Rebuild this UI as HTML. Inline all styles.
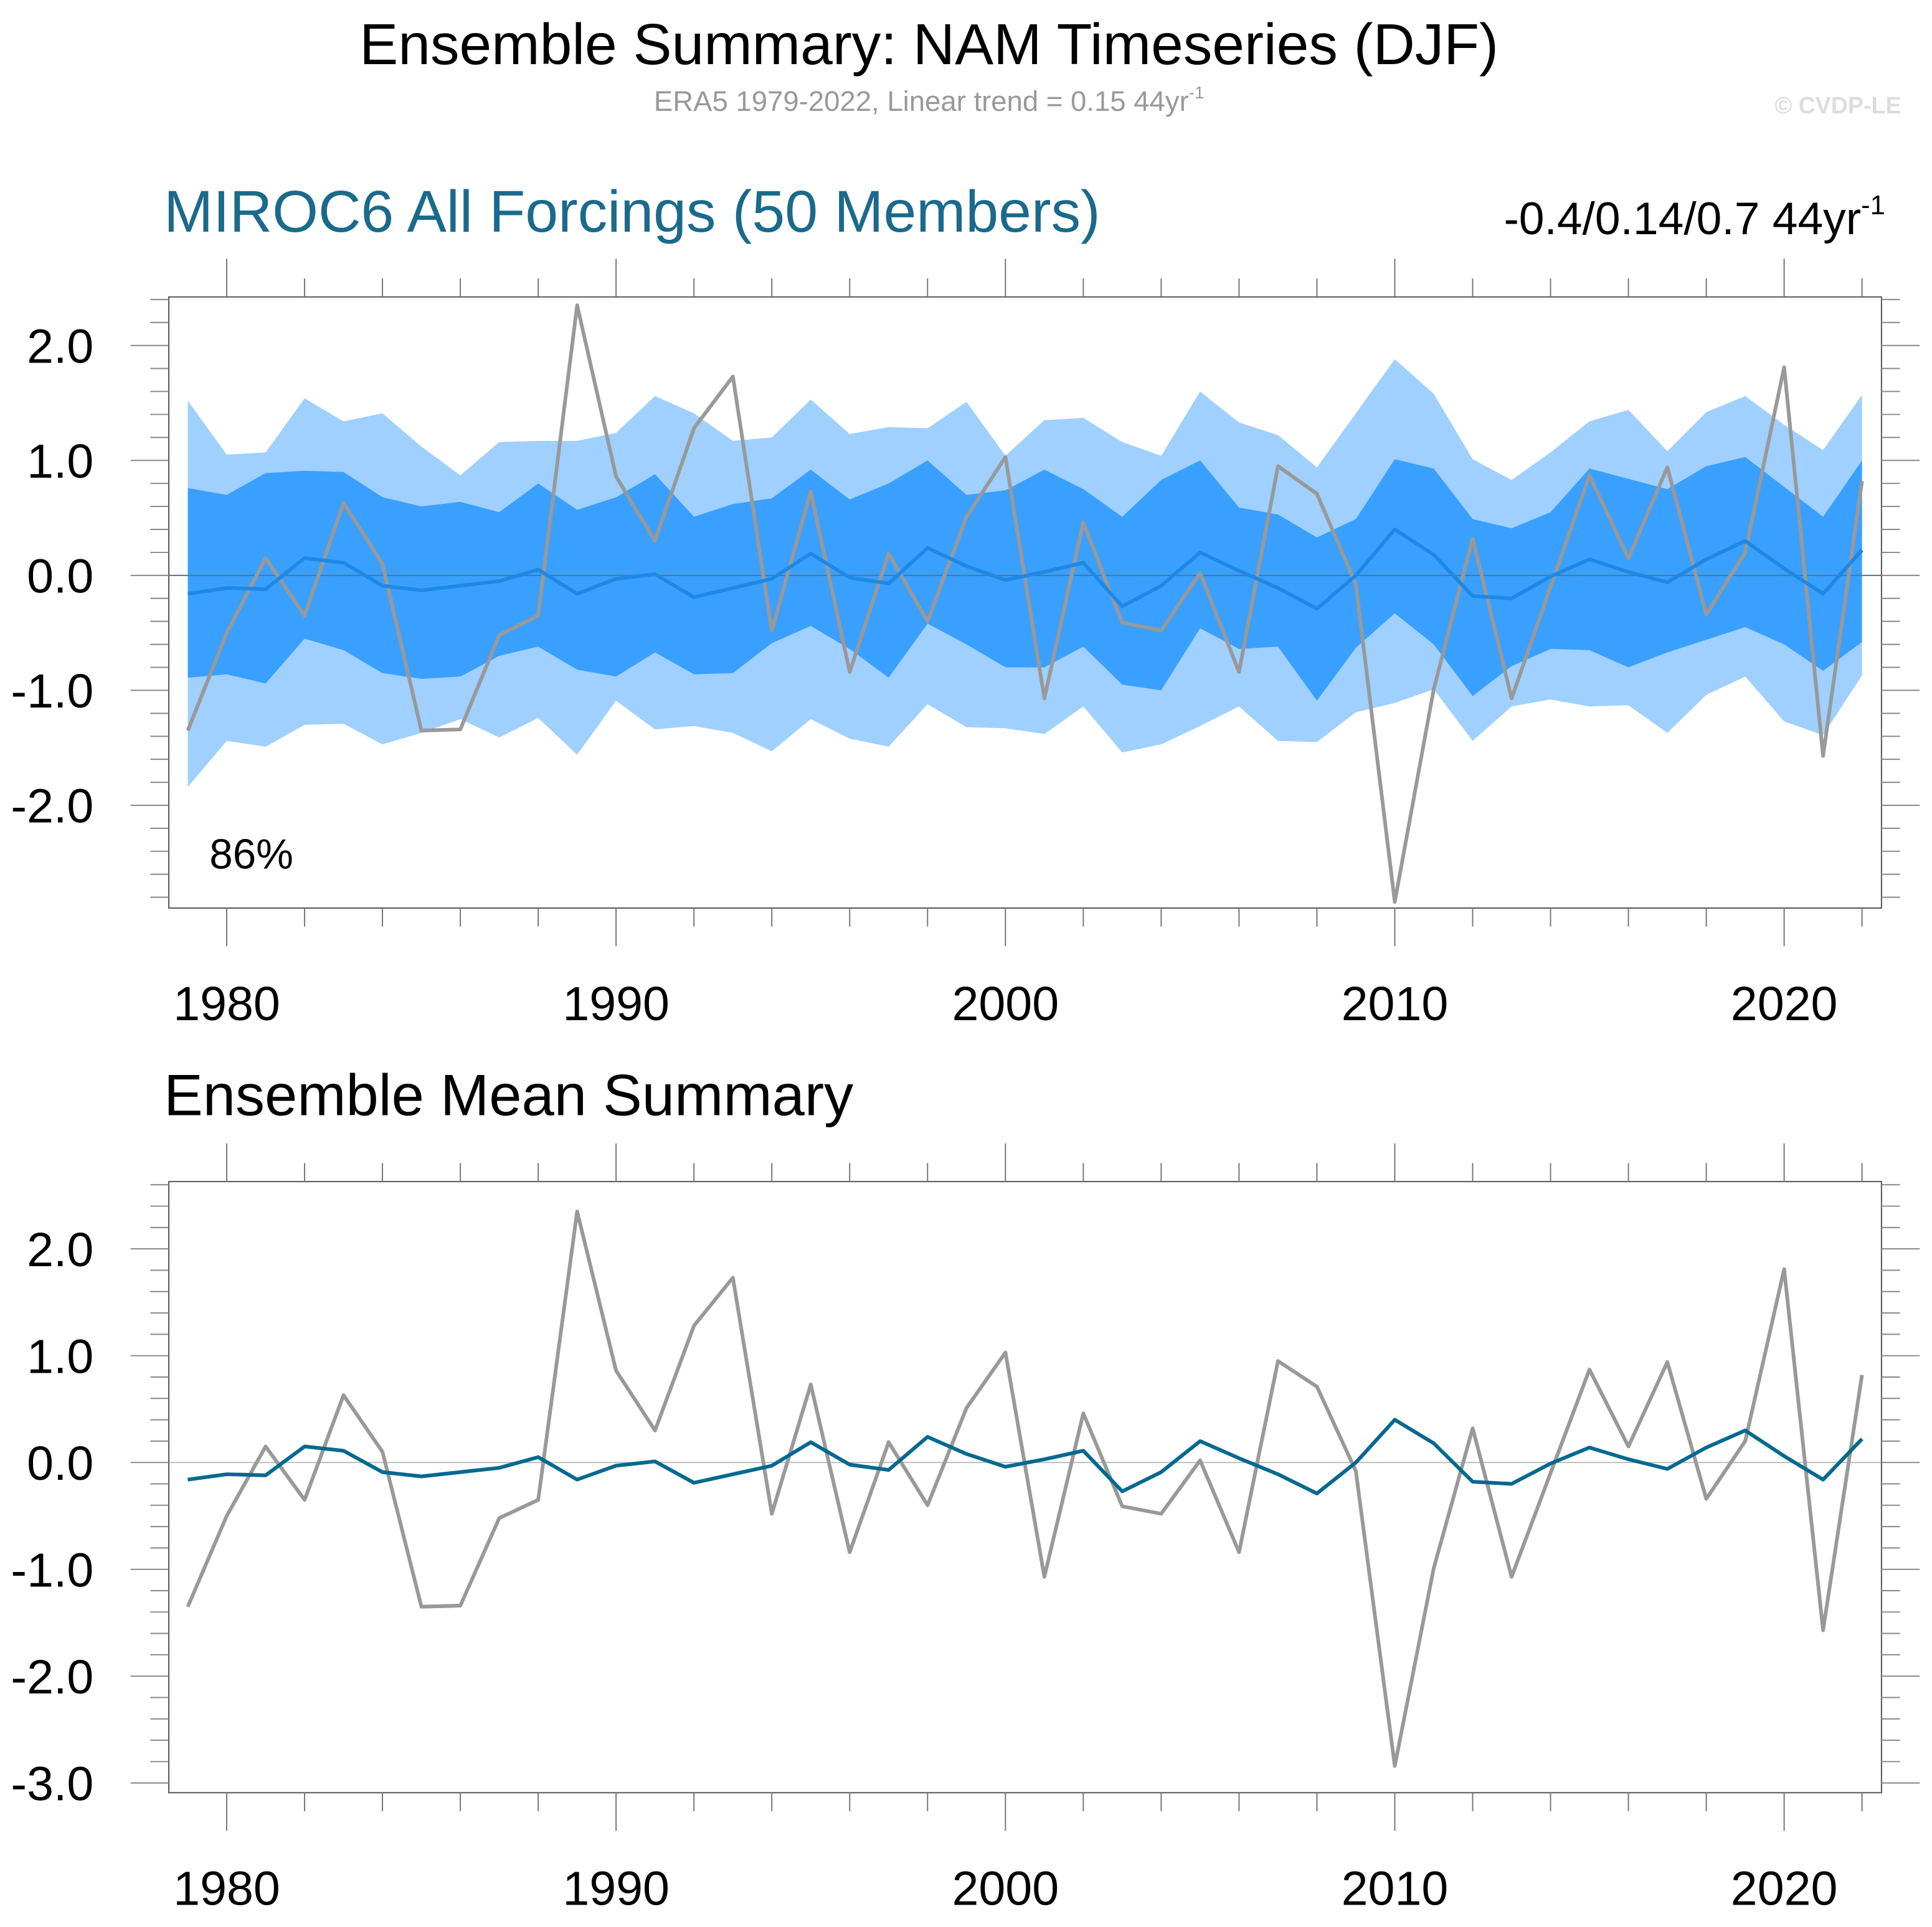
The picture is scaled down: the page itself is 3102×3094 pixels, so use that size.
<!DOCTYPE html>
<html><head><meta charset="utf-8"><style>html,body{margin:0;padding:0;background:#fff}svg{display:block}text{font-family:"Liberation Sans",sans-serif}</style></head>
<body>
<svg id="chart" xmlns="http://www.w3.org/2000/svg" width="3102" height="3094" viewBox="0 0 1568 1564" preserveAspectRatio="none">
<text x="754" y="52" font-size="47" text-anchor="middle" fill="#000">Ensemble Summary: NAM Timeseries (DJF)</text>
<text x="754" y="90" font-size="23" text-anchor="middle" fill="#999">ERA5 1979-2022, Linear trend = 0.15 44yr<tspan dy="-10" font-size="14">-1</tspan></text>
<text x="1543" y="92" font-size="19" font-weight="bold" text-anchor="end" fill="#ddd">© CVDP-LE</text>
<text x="133" y="188" font-size="48" fill="#1a6a8c">MIROC6 All Forcings (50 Members)</text>
<text x="1530" y="190" font-size="37" text-anchor="end" fill="#000">-0.4/0.14/0.7 44yr<tspan dy="-16" font-size="22">-1</tspan></text>
<text x="133" y="905" font-size="47.5" fill="#000">Ensemble Mean Summary</text>
<g id="p1"></g><g id="p2"></g>
</svg>
<script>
const years=[];for(let y=1979;y<=2022;y++)years.push(y);
const era5=[-1.35,-0.5,0.15,-0.35,0.63,0.1,-1.35,-1.34,-0.52,-0.35,2.35,0.86,0.3,1.28,1.73,-0.48,0.73,-0.84,0.19,-0.4,0.51,1.03,-1.07,0.46,-0.41,-0.48,0.02,-0.84,0.95,0.71,-0.08,-2.84,-0.99,0.32,-1.07,-0.1,0.87,0.15,0.94,-0.34,0.2,1.81,-1.57,0.82];
const ensMean=[-0.16,-0.11,-0.12,0.15,0.11,-0.09,-0.13,-0.09,-0.05,0.05,-0.16,-0.03,0.01,-0.19,-0.11,-0.03,0.19,-0.02,-0.07,0.24,0.08,-0.04,0.03,0.11,-0.27,-0.09,0.2,0.04,-0.11,-0.29,0.0,0.4,0.18,-0.18,-0.2,-0.01,0.14,0.03,-0.06,0.14,0.3,0.06,-0.16,0.22];
const outerHi=[1.52,1.05,1.07,1.54,1.34,1.41,1.12,0.87,1.16,1.17,1.17,1.24,1.56,1.41,1.17,1.2,1.53,1.23,1.29,1.28,1.51,1.04,1.35,1.37,1.16,1.04,1.6,1.33,1.22,0.94,1.41,1.88,1.58,1.01,0.83,1.07,1.34,1.44,1.08,1.42,1.56,1.31,1.09,1.57];
const innerHi=[0.76,0.7,0.89,0.91,0.9,0.68,0.6,0.64,0.55,0.8,0.57,0.68,0.88,0.51,0.62,0.67,0.92,0.66,0.8,1.0,0.7,0.74,0.92,0.75,0.51,0.83,1.0,0.59,0.53,0.33,0.49,1.01,0.93,0.49,0.41,0.55,0.93,0.84,0.75,0.95,1.03,0.77,0.51,1.0];
const innerLo=[-0.89,-0.86,-0.94,-0.55,-0.65,-0.85,-0.9,-0.88,-0.7,-0.62,-0.82,-0.88,-0.67,-0.86,-0.85,-0.59,-0.44,-0.64,-0.89,-0.42,-0.6,-0.8,-0.8,-0.62,-0.95,-1.0,-0.46,-0.64,-0.62,-1.09,-0.63,-0.33,-0.6,-1.05,-0.79,-0.64,-0.65,-0.8,-0.67,-0.56,-0.45,-0.6,-0.83,-0.58];
const outerLo=[-1.84,-1.44,-1.49,-1.3,-1.29,-1.47,-1.37,-1.25,-1.41,-1.24,-1.56,-1.09,-1.34,-1.31,-1.37,-1.53,-1.25,-1.42,-1.49,-1.12,-1.32,-1.33,-1.38,-1.14,-1.54,-1.47,-1.31,-1.14,-1.44,-1.45,-1.19,-1.11,-0.99,-1.44,-1.14,-1.08,-1.14,-1.13,-1.37,-1.04,-0.88,-1.27,-1.39,-0.87];
const xTickYears=[1980,1990,2000,2010,2020];
const yTicks1=[2,1,0,-1,-2];
const yTicks2=[2,1,0,-1,-2,-3];
const NS="http://www.w3.org/2000/svg";
function mk(parent,tag,attrs){const e=document.createElementNS(NS,tag);for(const k in attrs)e.setAttribute(k,attrs[k]);parent.appendChild(e);return e;}
const X=y=>184+(y-1980)*31.6;
function panel(g,top,bot,y0,unit,vmin,vmax,yTicks,isTop){
  const Y=v=>y0-v*unit;const L=137,R=1527;
  if(isTop){
    const band=(hi,lo,fill,name)=>{let d='M'+years.map((y,i)=>X(y)+','+Y(hi[i])).join('L')+'L'+years.slice().reverse().map((y,j)=>X(y)+','+Y(lo[lo.length-1-j])).join('L')+'Z';
      const p=mk(g,'path',{d:d,fill:fill});
      
      };
    band(outerHi,outerLo,'#9fd0ff','outer-spread-band');
    band(innerHi,innerLo,'#3aa0ff','inner-spread-band');
  }
  const z=mk(g,'line',{x1:L,x2:R,y1:Y(0),y2:Y(0),stroke:isTop?'#4a7898':'#bbb','stroke-width':1});
  
  
  const line=(vals,color,name)=>{const p=mk(g,'polyline',{points:years.map((y,i)=>X(y)+','+Y(vals[i])).join(' '),fill:'none',stroke:color,'stroke-width':3,'stroke-linejoin':'round'});
    
    };
  line(era5,'#999','era5-line');
  line(ensMean,isTop?'#1e88e5':'#00698f','ensemble-mean-line');
  const box=mk(g,'rect',{x:L,y:top,width:R-L,height:bot-top,fill:'none',stroke:'#555','stroke-width':1});
  
  
  for(let y=1980;y<=2022;y+=2){const maj=y%10===0;const len=maj?31:15;
    mk(g,'line',{x1:X(y),x2:X(y),y1:top,y2:top-len,stroke:'#777','stroke-width':1});
    mk(g,'line',{x1:X(y),x2:X(y),y1:bot,y2:bot+len,stroke:'#777','stroke-width':1});}
  xTickYears.forEach(y=>{const t=mk(g,'text',{x:X(y),y:bot+91,'font-size':39,'text-anchor':'middle',fill:'#000'});t.textContent=y;
    
    });
  for(let k=Math.ceil(vmin*5);k<=Math.floor(vmax*5);k++){const v=k/5;const maj=k%5===0;const len=maj?31:15;
    mk(g,'line',{x1:L,x2:L-len,y1:Y(v),y2:Y(v),stroke:'#888','stroke-width':1});
    mk(g,'line',{x1:R,x2:R+len,y1:Y(v),y2:Y(v),stroke:'#888','stroke-width':1});}
  yTicks.forEach(v=>{const t=mk(g,'text',{x:76,y:Y(v)+14,'font-size':39,'text-anchor':'end',fill:'#000'});t.textContent=v.toFixed(1);
    
    });
}
panel(document.getElementById('p1'),241,737,467,93.3,-2.89,2.42,yTicks1,true);
panel(document.getElementById('p2'),959,1455,1187,86.7,-3.09,2.63,yTicks2,false);
const pct=mk(document.getElementById('p1'),'text',{x:170,y:705,'font-size':34,fill:'#000'});pct.textContent='86%';


</script>
</body></html>
